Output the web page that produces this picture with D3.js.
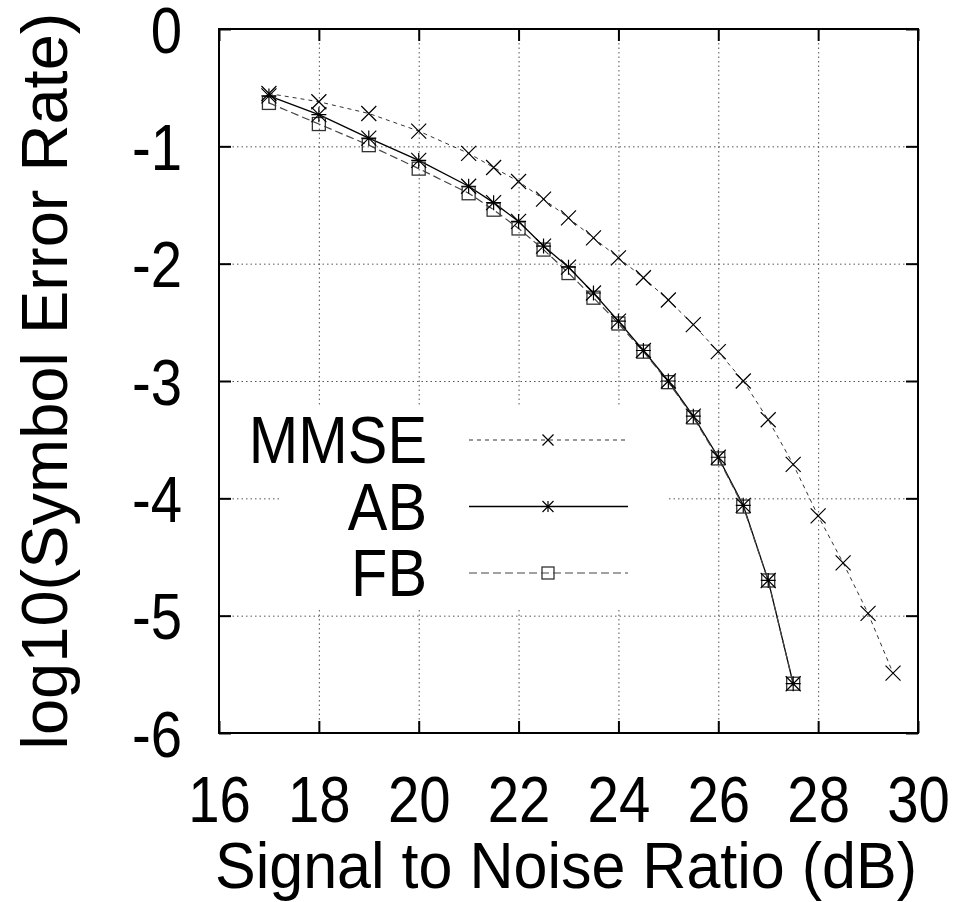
<!DOCTYPE html>
<meta charset="utf-8">
<style>
body { margin: 0; background: #fff; }
text { font-family: "Liberation Sans", Arial, sans-serif; fill: #000; }
.grid line { stroke: #555; stroke-dasharray: 1.5,3; stroke-width: 1; }
.grid .domain { display: none; }
.ticks line { stroke: #000; stroke-width: 2; }
.ticks .domain { display: none; }
</style>
<body>
<svg width="965" height="902"></svg>
<script src="https://d3js.org/d3.v7.min.js"></script>
<script>

var xTicks = [16, 18, 20, 22, 24, 26, 28, 30];
var yTicks = [0, -1, -2, -3, -4, -5, -6];

var snrMMSE = [17, 18, 19, 20, 21, 21.5, 22, 22.5, 23, 23.5, 24, 24.5, 25, 25.5, 26, 26.5, 27, 27.5, 28, 28.5, 29, 29.5];
var mmse = [-0.55, -0.62, -0.72, -0.87, -1.06, -1.18, -1.30, -1.45, -1.61, -1.78, -1.95, -2.12, -2.31, -2.52, -2.75, -3.00, -3.33, -3.71, -4.15, -4.55, -4.98, -5.49];

var snrAB = [17, 18, 19, 20, 21, 21.5, 22, 22.5, 23, 23.5, 24, 24.5, 25, 25.5, 26, 26.5, 27, 27.5];
var ab = [-0.57, -0.73, -0.93, -1.12, -1.34, -1.48, -1.64, -1.85, -2.03, -2.25, -2.49, -2.74, -3.00, -3.30, -3.65, -4.06, -4.70, -5.58];
var fb = [-0.63, -0.81, -0.99, -1.19, -1.40, -1.54, -1.70, -1.88, -2.08, -2.29, -2.51, -2.75, -3.01, -3.31, -3.66, -4.07, -4.70, -5.58];

var seriesNames = ["MMSE", "AB", "FB"];

var svg = d3.select("svg"),
    pLeft = 219, pRight = 918, pTop = 29, pBottom = 733;

var x = d3.scaleLinear().domain([16, 30]).range([pLeft, pRight]);
var y = d3.scaleLinear().domain([-6, 0]).range([pBottom, pTop]);

// plain hyphen minus, like the original
var fmt = function(d) { return String(d); };

// grid
svg.append("g")
    .attr("class", "grid")
    .attr("transform", "translate(0," + pBottom + ")")
    .call(d3.axisBottom(x).tickValues(xTicks.slice(1, -1)).tickSize(-(pBottom - pTop)).tickFormat(""));

svg.append("g")
    .attr("class", "grid")
    .attr("transform", "translate(" + pLeft + ",0)")
    .call(d3.axisLeft(y).tickValues(yTicks.slice(1, -1)).tickSize(-(pRight - pLeft)).tickFormat(""));

// key area hides the grid
svg.append("rect")
    .attr("x", 282).attr("y", 407)
    .attr("width", 384).attr("height", 201)
    .attr("fill", "#fff");

// inward ticks on all four sides
svg.append("g").attr("class", "ticks")
    .attr("transform", "translate(0," + pBottom + ")")
    .call(d3.axisBottom(x).tickValues(xTicks).tickSize(-12).tickFormat(""));
svg.append("g").attr("class", "ticks")
    .attr("transform", "translate(0," + pTop + ")")
    .call(d3.axisTop(x).tickValues(xTicks).tickSize(-12).tickFormat(""));
svg.append("g").attr("class", "ticks")
    .attr("transform", "translate(" + pLeft + ",0)")
    .call(d3.axisLeft(y).tickValues(yTicks).tickSize(-12).tickFormat(""));
svg.append("g").attr("class", "ticks")
    .attr("transform", "translate(" + pRight + ",0)")
    .call(d3.axisRight(y).tickValues(yTicks).tickSize(-12).tickFormat(""));

// tick labels
var xLab = svg.append("g")
    .attr("transform", "translate(0," + pBottom + ")")
    .call(d3.axisBottom(x).tickValues(xTicks).tickSize(0).tickFormat(fmt));
xLab.select(".domain").remove();
xLab.selectAll("text")
    .attr("font-size", 64).attr("font-family", null).attr("fill", "#000")
    .attr("y", 89).attr("dy", null)
    .attr("transform", "scale(0.88,1)");

var yLab = svg.append("g")
    .attr("transform", "translate(" + pLeft + ",0)")
    .call(d3.axisLeft(y).tickValues(yTicks).tickSize(0).tickFormat(fmt));
yLab.select(".domain").remove();
yLab.selectAll("text")
    .attr("font-size", 64).attr("font-family", null).attr("fill", "#000")
    .attr("x", -37 / 0.88).attr("dy", "0.36em")
    .attr("transform", "scale(0.88,1)");

// axis titles
svg.append("text")
    .attr("transform", "translate(67," + ((pTop + pBottom) / 2) + ") rotate(-90)")
    .attr("text-anchor", "middle")
    .attr("font-size", 65)
    .text("log10(Symbol Error Rate)");

svg.append("text")
    .attr("x", 566).attr("y", 888)
    .attr("text-anchor", "middle")
    .attr("font-size", 64)
    .attr("textLength", 702)
    .attr("lengthAdjust", "spacingAndGlyphs")
    .text("Signal to Noise Ratio (dB)");

// border
svg.append("rect")
    .attr("x", pLeft).attr("y", pTop)
    .attr("width", pRight - pLeft).attr("height", pBottom - pTop)
    .attr("fill", "none").attr("stroke", "#000").attr("stroke-width", 2);

// series
var styles = {
  MMSE: {stroke: "#333", dash: "4,4", width: 1},
  AB: {stroke: "#000", dash: null, width: 1.3},
  FB: {stroke: "#444", dash: "8,4", width: 1.2}
};

var series = [
  {name: "MMSE", pts: snrMMSE.map(function(s, i) { return [s, mmse[i]]; })},
  {name: "AB", pts: snrAB.map(function(s, i) { return [s, ab[i]]; })},
  {name: "FB", pts: snrAB.map(function(s, i) { return [s, fb[i]]; })}
];

var line = d3.line()
    .x(function(d) { return x(d[0]); })
    .y(function(d) { return y(d[1]); });

function marker(g, name, cx, cy, r) {
  var p;
  if (name == "FB") {
    g.append("rect")
        .attr("x", cx - r).attr("y", cy - r)
        .attr("width", 2 * r).attr("height", 2 * r)
        .attr("fill", "none").attr("stroke", "#333").attr("stroke-width", 1.3);
    return;
  }
  p = "M" + (cx - r) + "," + (cy - r) + "L" + (cx + r) + "," + (cy + r) +
      "M" + (cx - r) + "," + (cy + r) + "L" + (cx + r) + "," + (cy - r);
  if (name == "AB") {
    p += "M" + (cx - r) + "," + cy + "L" + (cx + r) + "," + cy +
         "M" + cx + "," + (cy - r) + "L" + cx + "," + (cy + r);
  }
  g.append("path").attr("d", p).attr("stroke", "#000").attr("stroke-width", 1.2).attr("fill", "none");
}

var sg = svg.append("g");
series.forEach(function(s) {
  var st = styles[s.name];
  sg.append("path")
      .datum(s.pts)
      .attr("d", line)
      .attr("fill", "none")
      .attr("stroke", st.stroke)
      .attr("stroke-width", st.width)
      .attr("stroke-dasharray", st.dash);
});
series.slice().reverse().forEach(function(s) {
  s.pts.forEach(function(d) {
    marker(sg, s.name, x(d[0]), y(d[1]), s.name == "FB" ? 6.5 : 7.5);
  });
});

// key
var key = svg.append("g")
  .selectAll("g")
  .data(seriesNames)
  .enter().append("g")
    .attr("transform", function(d, i) { return "translate(0," + (440 + i * 66.5) + ")"; });

key.append("text")
    .attr("transform", "translate(427,23) scale(0.9,1)")
    .attr("text-anchor", "end")
    .attr("font-size", 66)
    .text(function(d) { return d; });

key.append("line")
    .attr("x1", 469).attr("x2", 628)
    .attr("stroke", function(d) { return styles[d].stroke; })
    .attr("stroke-width", function(d) { return styles[d].width; })
    .attr("stroke-dasharray", function(d) { return styles[d].dash; });

key.each(function(d) {
  marker(d3.select(this), d, 548, 0, d == "FB" ? 6 : 5.5);
});

</script>
</body>
